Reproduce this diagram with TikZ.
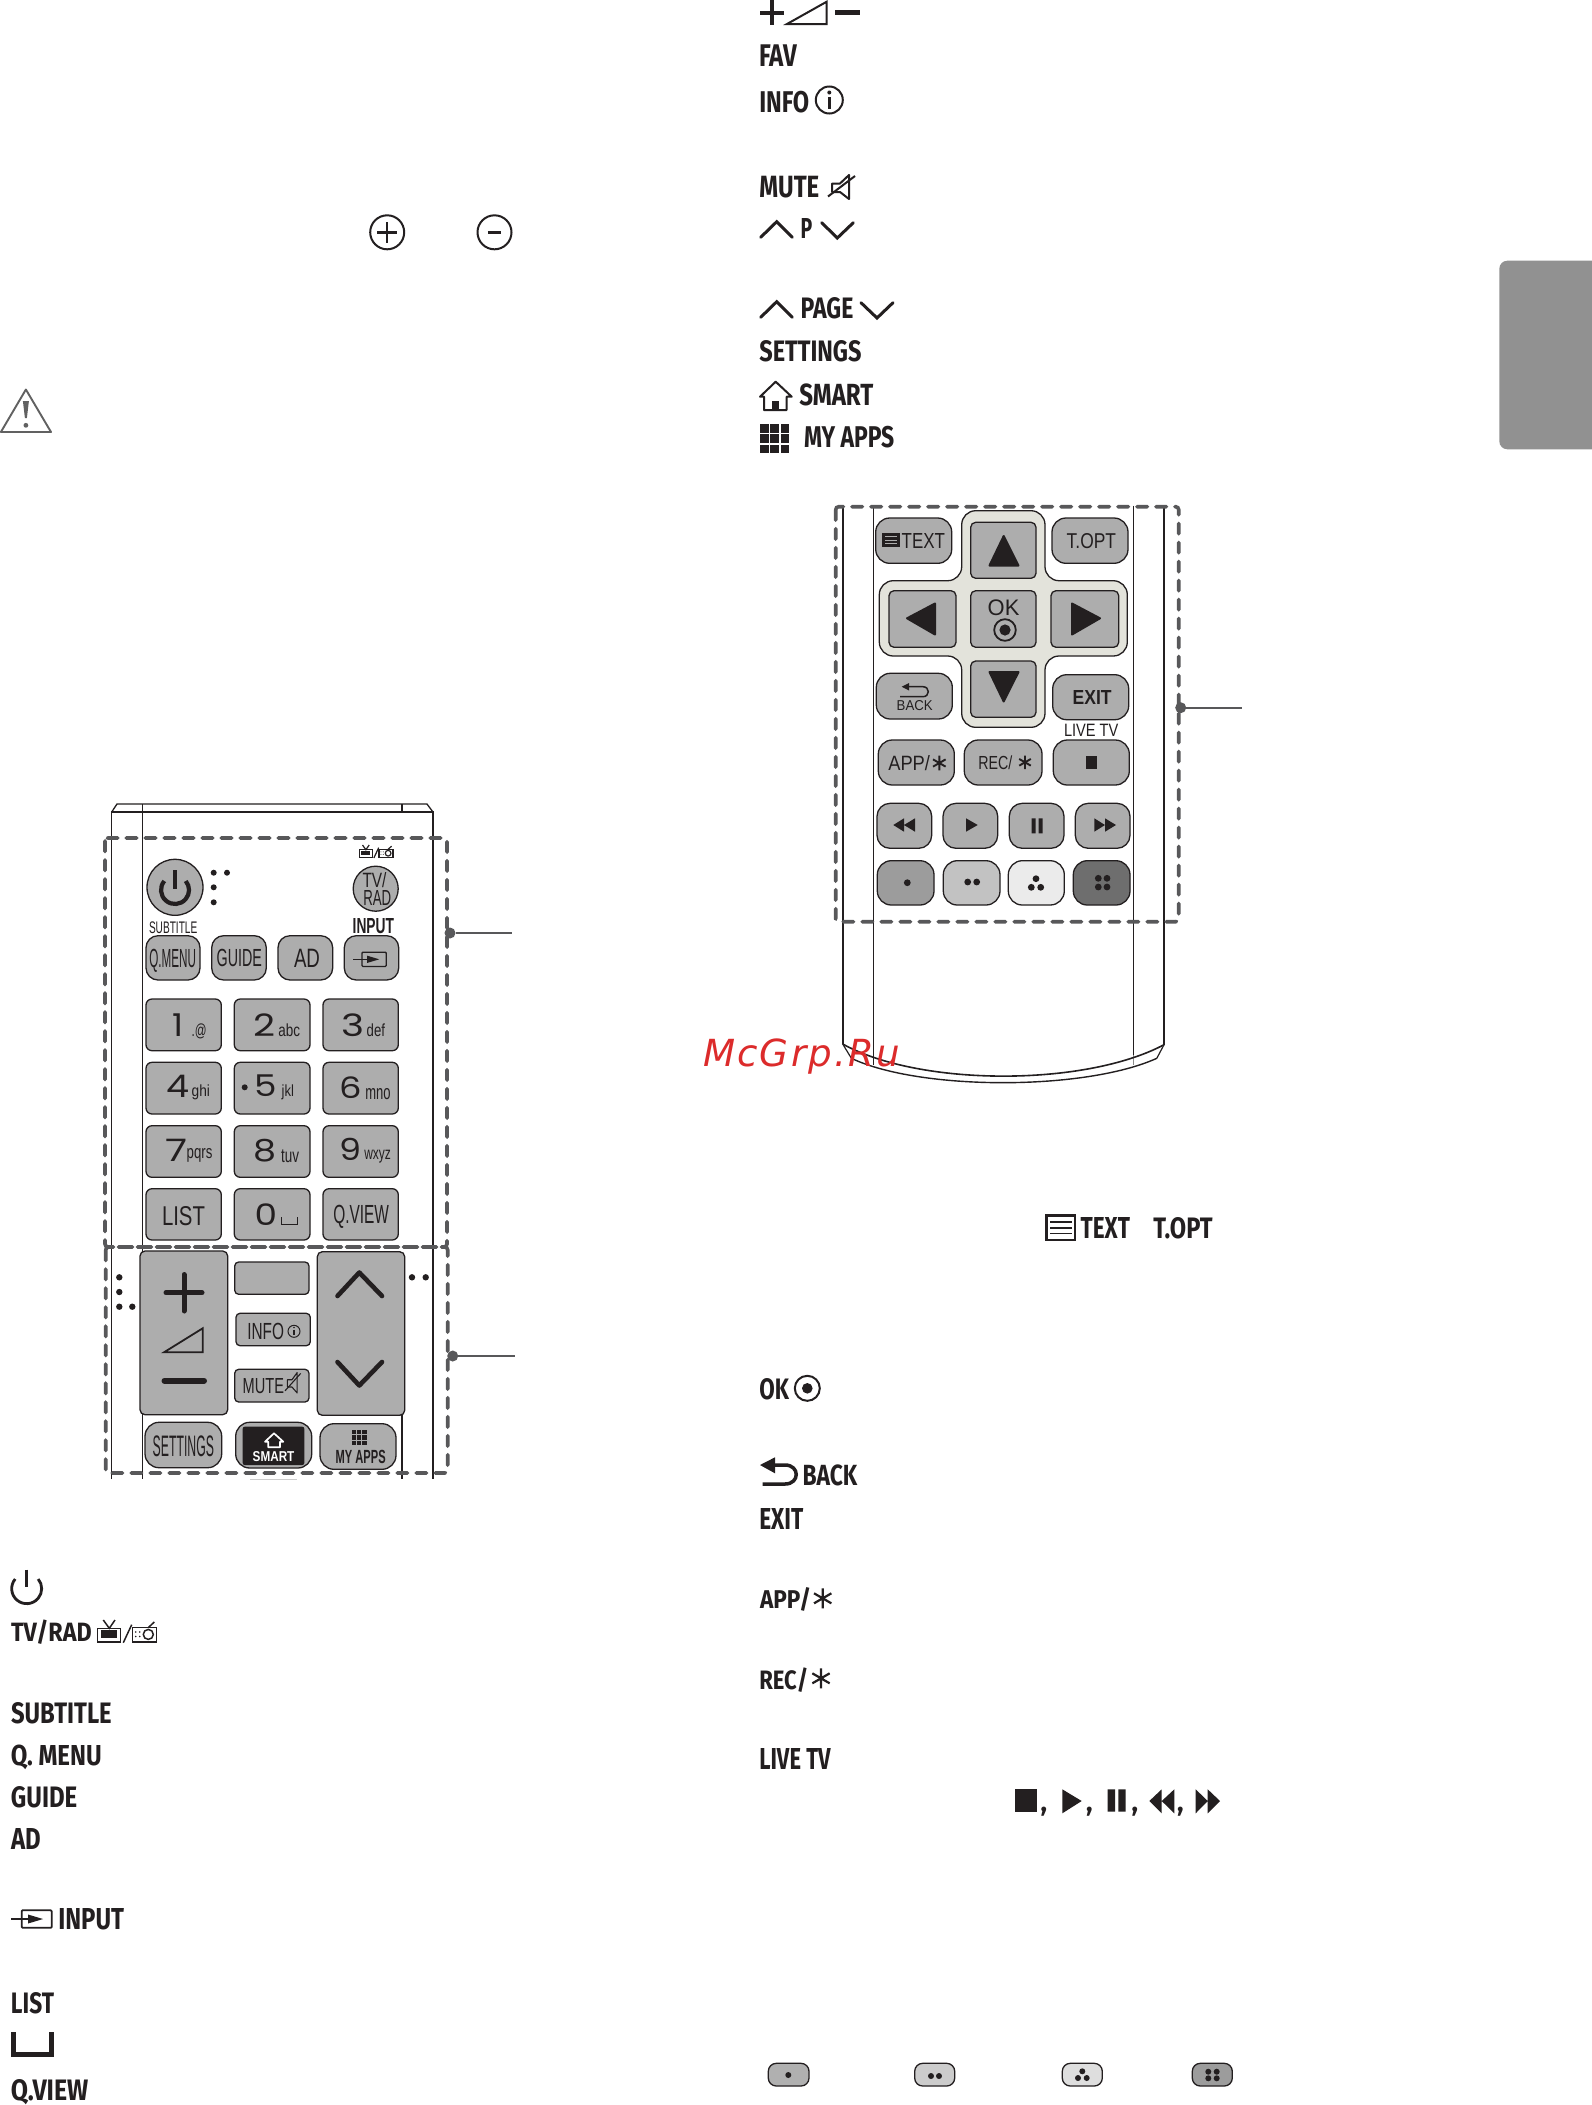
\documentclass[tikz,border=0pt]{standalone}
\usepackage{fontspec}
\usepackage{graphicx}
\newfontfamily\keyfont{Liberation Sans}
\newfontfamily\labfont{Fira Sans}
\newfontfamily\digfont{Poppins}
\newfontfamily\wmfont[LetterSpace=6]{DejaVu Sans}
\definecolor{ink}{HTML}{231F20}
\definecolor{keygray}{HTML}{ADADAD}
\definecolor{dashgray}{HTML}{58585A}
\definecolor{padbeige}{HTML}{E3E3DB}
\tikzset{
  x=1pt,y=-1pt,
  lbl/.style={inner sep=0pt,outer sep=0pt,anchor=base west,text=ink},
  keybox/.style={draw=ink,line width=1.3pt,inner sep=0pt,outer sep=0pt},
  body/.style={draw=ink,line width=1.3pt},
  dashbox/.style={draw=dashgray,line width=3.6pt,line cap=round,dash pattern=on 10.5pt off 8.5pt,rounded corners=3pt},
  ldot/.style={circle,fill=dashgray,inner sep=0pt,minimum size=11pt,outer sep=0pt},
  leader/.style={draw=dashgray,line width=2.4pt},
  solidicon/.style={fill=ink,draw=ink,line width=1pt,line join=round},
}
% name, x, baseline, width, height, font, text
\newcommand\placetext[7]{\node[lbl] (#1) at (#2,#3) {\resizebox{#4pt}{#5pt}{#6#7}};}
\newcommand\KT[6]{\placetext{#1}{#2}{#3}{#4}{#5}{\keyfont}{#6}}
\newcommand\KB[6]{\placetext{#1}{#2}{#3}{#4}{#5}{\keyfont\bfseries}{#6}}
\newcommand\LB[6]{\placetext{#1}{#2}{#3}{#4}{#5}{\labfont\bfseries}{#6}}
\newcommand\DG[6]{\placetext{#1}{#2}{#3}{#4}{#5}{\digfont}{#6}}
% name, x0, y0, x1, y1, radius, fill
\newcommand\KEY[7]{\node[keybox,rectangle,rounded corners=#6pt,fill=#7,minimum width={(#4-#2)*1pt},minimum height={(#5-#3)*1pt}] (#1) at ({(#2+#4)/2},{(#3+#5)/2}) {};}
\newcommand\DOT[3]{\fill[ink] (#1,#2) circle[radius=#3];}
\newcommand\ASTR[4]{\draw[ink,line width=#4pt] (#1,#2) +(90:#3) -- +(270:#3) (#1,#2) +(30:#3) -- +(210:#3) (#1,#2) +(150:#3) -- +(330:#3);}
\newcommand\GRIDICON[5]{\foreach \i in {0,1,2}{\foreach \j in {0,1,2}{\fill[#5] ({#1+\i*(#3+#4)},{#2+\j*(#3+#4)}) rectangle +(#3,#3);}}}
% x, y, scale, line width
\newcommand\INPUTICON[4]{\begin{scope}[shift={(#1,#2)},scale=#3]
  \draw[ink,line width=#4pt,rounded corners=1pt] (10.7,-8.8) rectangle (40.7,8.8);
  \draw[ink,line width=#4pt] (0,0) -- (25.7,0);
  \fill[ink] (17,-4.5) -- (32,0) -- (17,4.5) -- cycle;
\end{scope}}
\newcommand\TVICON[4]{\begin{scope}[shift={(#1,#2)},scale=#3]
  \draw[ink,line width=#4pt] (0,8.3) rectangle (23,22);
  \fill[ink] (3.4,9.8) rectangle (19.6,18);
  \draw[ink,line width=#4pt] (5.6,0) -- (11.6,8.3) -- (17.3,0);
  \draw[ink,line width=#4pt] (25.6,22.7) -- (34,4.7);
  \draw[ink,line width=#4pt] (34.6,7.6) rectangle (59,22);
  \draw[ink,line width=#4pt] (50.6,14.4) circle[radius=5];
  \draw[ink,line width=#4pt] (50.6,7.6) -- (56.6,2);
  \foreach \a/\b in {38/12,42/12,38/16.5,42/16.5}{\fill[ink] (\a,\b) circle[radius=0.9];}
\end{scope}}
\newcommand\SPEAKER[5]{\begin{scope}[shift={(#1,#2)},xscale=#3,yscale=#4]
  \draw[ink,line width=#5pt,line join=round] (4,11.5) -- (12,11.5) -- (21,3) -- (21,27) -- (12,20) -- (4,20) -- cycle;
  \draw[ink,line width=#5pt] (0,24.5) -- (27,4);
\end{scope}}
\begin{document}
\begin{tikzpicture}
\useasboundingbox (0,0) rectangle (1591,2105);
\fill[white] (0,0) rectangle (1591,2105);

% ---- grey tab
\fill[fill=black!43!white,rounded corners=8pt] (1499.3,260.7) rectangle (1620,449.3);

% ---- circled plus / minus
\node[circle,draw=ink,line width=2pt,minimum size=34pt,inner sep=0pt] (cplus) at (387.2,232.3) {};
\draw[ink,line width=2.4pt] (377,232.3) -- (397.4,232.3) (387.2,222.1) -- (387.2,242.5);
\node[circle,draw=ink,line width=2pt,minimum size=34pt,inner sep=0pt] (cminus) at (494.5,232.3) {};
\draw[ink,line width=2.4pt] (487.8,232.3) -- (501.3,232.3);

% ---- warning triangle
\draw[black!62!white,line width=1.9pt,line join=round] (25.9,389.5) -- (51,432) -- (0.9,432) -- cycle;
\fill[black!62!white] (22.9,401) -- (28.9,401) -- (26.9,418) -- (24.9,418) -- cycle;
\fill[black!62!white] (25.9,425.3) circle[radius=2.4];

% ---- remote 1 body
\draw[body] (111.7,1479) -- (111.7,812) -- (433,812) -- (433,1479);
\draw[body] (111.7,812) -- (117,804) -- (427,804) -- (433,812);
\draw[body] (142.7,804) -- (142.7,1479);
\draw[body] (402,804) -- (402,812);
\draw[body] (402,1415) -- (402,1479);
\draw[black!20!white,line width=1pt] (250,1479.5) -- (297,1479.5);

\draw[dashbox] (105,838) rectangle (447,1247);
\draw[dashbox] (105.7,1247) rectangle (447.7,1473);
\node[ldot] (dota) at (450,933) {};
\coordinate (enda) at (512,933);
\draw[leader] (dota) -- (enda);
\node[ldot] (dotb) at (452.7,1356) {};
\coordinate (endb) at (514.5,1356);
\draw[leader] (dotb) -- (endb);

% power and TV/RAD
\node[keybox,circle,fill=keygray,minimum size=56pt] (power) at (175,887.3) {};
\draw[ink,line width=4.2pt] (164.3,881) arc[start angle=140,delta angle=260,radius=14pt];
\draw[ink,line width=4.2pt] (175,870) -- (175,889);
\DOT{213.7}{872.7}{3} \DOT{227}{872.7}{3} \DOT{213.7}{887.3}{3} \DOT{213.7}{902.3}{3}
\TVICON{359.3}{845}{0.57}{1.2}
\node[keybox,circle,fill=keygray,minimum size=45pt] (tvrad) at (375.7,888.7) {};
\KT{ttv}{362.5}{887}{24}{15}{TV/}
\KT{trad}{363.3}{905}{28}{15}{RAD}
\KT{tsub}{149}{933.3}{48.3}{11.7}{SUBTITLE}
\KB{tinp}{352.7}{933.3}{41.3}{15}{INPUT}

\KEY{kqm}{146}{935.7}{200}{980}{12}{keygray}
\KEY{kgd}{211.7}{935.7}{266.3}{980}{12}{keygray}
\KEY{kad}{278}{935.7}{332.7}{980}{12}{keygray}
\KEY{kin}{344.3}{935.7}{398.7}{980}{12}{keygray}
\KT{tqm}{149.3}{967.7}{46.7}{18.3}{Q.MENU}
\KT{tgd}{216.7}{966.7}{45.3}{17.3}{GUIDE}
\KT{tad}{294}{967.7}{26}{18.3}{AD}
\INPUTICON{353.3}{959.3}{0.81}{1.3}

% number keys
\KEY{n1}{146}{999}{221.3}{1050.7}{6}{keygray}
\KEY{n2}{234.3}{999}{310}{1050.7}{6}{keygray}
\KEY{n3}{323}{999}{398.3}{1050.7}{6}{keygray}
\KEY{n4}{146}{1062.3}{221.3}{1114}{6}{keygray}
\KEY{n5}{234.3}{1062.3}{310}{1114}{6}{keygray}
\KEY{n6}{323}{1062.3}{398.3}{1114}{6}{keygray}
\KEY{n7}{146}{1125.7}{221.3}{1177.3}{6}{keygray}
\KEY{n8}{234.3}{1125.7}{310}{1177.3}{6}{keygray}
\KEY{n9}{323}{1125.7}{398.3}{1177.3}{6}{keygray}
\KEY{nl}{146}{1188.7}{221.3}{1240}{6}{keygray}
\KEY{n0}{234.3}{1188.7}{310}{1240}{6}{keygray}
\KEY{nq}{323}{1188.7}{398.3}{1240}{6}{keygray}
\DG{d1}{172}{1036}{11}{22.7}{1}\KT{s1}{191.7}{1036}{15}{12.7}{.@}
\DG{d2}{253}{1036}{22}{22.7}{2}\KT{s2}{278.3}{1036}{21.7}{12.7}{abc}
\DG{d3}{341}{1036}{23}{22.7}{3}\KT{s3}{366.7}{1036}{18.3}{12.7}{def}
\DG{d4}{166}{1097.3}{23}{22.3}{4}\KT{s4}{191.7}{1096.7}{18.3}{11.7}{ghi}
\DOT{244.7}{1087.3}{3}
\DG{d5}{254}{1096.7}{22.5}{21.7}{5}\KT{s5}{281.7}{1096.7}{12.3}{11.7}{jkl}
\DG{d6}{339}{1098.3}{22.5}{21.7}{6}\KT{s6}{365.3}{1099.3}{25.3}{11}{mno}
\DG{d7}{165.5}{1161.7}{22}{22.3}{7}\KT{s7}{186.7}{1158.3}{25.7}{10}{pqrs}
\DG{d8}{253}{1161.7}{23}{22.3}{8}\KT{s8}{281}{1162.7}{18}{12.7}{tuv}
\DG{d9}{339}{1160.7}{22}{22.3}{9}\KT{s9}{364.3}{1159.3}{26.7}{9.3}{wxyz}
\KT{tlist}{162}{1225}{43}{19}{LIST}
\DG{d0}{254.5}{1225}{22.5}{21.7}{0}
\draw[ink,line width=1.2pt] (281.3,1217) -- (281.3,1224.7) -- (297.4,1224.7) -- (297.4,1217);
\KT{tqv}{333.3}{1223.3}{55.7}{18.3}{Q.VIEW}

% rockers
\DOT{119.3}{1277.3}{3.2} \DOT{119.3}{1292}{3.2} \DOT{119.3}{1306.7}{3.2} \DOT{132.3}{1306.7}{3.2}
\DOT{412}{1277.3}{3.2} \DOT{425.7}{1277.3}{3.2}
\KEY{kvol}{140}{1251}{227.7}{1414.7}{5}{keygray}
\draw[ink,line width=5pt,line cap=round] (166,1292.7) -- (202,1292.7) (184,1274.5) -- (184,1311);
\draw[ink,line width=1.8pt,line join=miter] (164,1352.3) -- (202.7,1328.3) -- (202.7,1352.3) -- cycle;
\draw[ink,line width=6pt,line cap=round] (164.5,1380.7) -- (204,1380.7);
\KEY{kblank}{234.7}{1262}{309}{1294.3}{4}{keygray}
\KEY{kinfo}{236}{1313.3}{310.3}{1345.7}{4}{keygray}
\KT{tinfo}{247.3}{1339}{36.7}{16.3}{INFO}
\draw[ink,line width=1pt] (294,1331.3) circle[radius=6];
\draw[ink,line width=1.2pt] (294,1329.5) -- (294,1335);
\fill[ink] (294,1327.5) circle[radius=0.8];
\KEY{kmute}{234.7}{1369.3}{309}{1402}{4}{keygray}
\KT{tmute}{242.7}{1393.3}{41.3}{15}{MUTE}
\SPEAKER{285}{1370}{0.58}{0.85}{1.1}
\KEY{kprog}{317.3}{1251.7}{404.7}{1415.3}{5}{keygray}
\draw[ink,line width=4.6pt,line cap=round,line join=round] (337.5,1296) -- (359.3,1272.5) -- (382,1296);
\draw[ink,line width=4.6pt,line cap=round,line join=round] (337.5,1362) -- (359.3,1385.5) -- (382,1362);

\KEY{kset}{145}{1422.3}{221.7}{1467.7}{14}{keygray}
\KT{tset}{152.7}{1456.7}{61.3}{20.7}{SETTINGS}
\KEY{ksm}{235.7}{1422.3}{311.7}{1468}{14}{keygray}
\fill[ink,rounded corners=2pt] (242.7,1426.7) rectangle (304.3,1465);
\draw[white,line width=1.7pt,line join=round] (265,1441.7) -- (274,1433.3) -- (283.3,1441.7) -- (280,1441.7) -- (280,1447.3) -- (268.3,1447.3) -- (268.3,1441.7) -- cycle;
\node[lbl,text=white] (tsmart) at (252.7,1461.7) {\resizebox{41.7pt}{10pt}{\keyfont\bfseries SMART}};
\KEY{kapps}{320}{1423.7}{396}{1469.3}{14}{keygray}
\GRIDICON{351.7}{1430}{4.3}{1}{ink}
\KB{tapps}{335.7}{1463.3}{50}{13.3}{MY APPS}

% ---- left labels
\draw[ink,line width=2.8pt] (15.2,1579) arc[start angle=140,delta angle=260,radius=15pt];
\draw[ink,line width=2.8pt] (26.7,1569.5) -- (26.7,1587);
\LB{ltv}{11}{1641.6}{80.7}{21.6}{TV/RAD}
\TVICON{97.7}{1620}{1}{1.5}
\LB{lsub}{11}{1723}{100.7}{21}{SUBTITLE}
\LB{lqm}{11}{1765.2}{90.7}{20.5}{Q. MENU}
\LB{lgd}{11}{1807.8}{66.3}{21}{GUIDE}
\LB{lad}{11}{1849.2}{29.7}{21}{AD}
\INPUTICON{11}{1919}{1}{1.8}
\LB{linp}{58.3}{1929.2}{65.7}{21}{INPUT}
\LB{llist}{11}{2013.2}{43}{21}{LIST}
\draw[ink,line width=5pt] (13.5,2032) -- (13.5,2054.5) -- (51.5,2054.5) -- (51.5,2032);
\LB{lqv}{11}{2100.4}{77.3}{21}{Q.VIEW}

% ---- top right labels
\draw[ink,line width=4pt] (760,12.7) -- (784.3,12.7) (772,0) -- (772,25);
\draw[ink,line width=2pt] (787,24) -- (826.7,1.7) -- (826.7,24) -- cycle;
\draw[ink,line width=4.5pt] (835,12.7) -- (860,12.7);
\LB{lfav}{759.3}{66.7}{38}{21.7}{FAV}
\LB{linfo}{759.3}{112}{50}{21.3}{INFO}
\draw[ink,line width=2pt] (829.3,100) circle[radius=13.5];
\draw[ink,line width=3.2pt] (829.3,97) -- (829.3,108.5);
\fill[ink] (829.3,92.5) circle[radius=2];
\LB{lmute}{759.3}{197.3}{60}{21.3}{MUTE}
\SPEAKER{828}{172}{1}{1}{2}
\draw[ink,line width=3pt,line cap=round,line join=miter] (760.7,237.3) -- (776.7,221.7) -- (792.3,237.3);
\LB{lp}{800.7}{238.3}{11.7}{20}{P}
\draw[ink,line width=3pt,line cap=round,line join=miter] (821.7,222.7) -- (837.3,238) -- (853.3,222.7);
\draw[ink,line width=3pt,line cap=round,line join=miter] (760.7,317.3) -- (776.7,301.7) -- (792.3,317.3);
\LB{lpage}{800.7}{318.3}{52.7}{21}{PAGE}
\draw[ink,line width=3pt,line cap=round,line join=miter] (861,302.7) -- (877,318) -- (893,302.7);
\LB{lset}{759.3}{361.7}{102.3}{21}{SETTINGS}
\draw[ink,line width=2pt,line join=round] (760,396.7) -- (775.7,381.7) -- (791.7,396.7) -- (786.7,396.7) -- (786.7,410) -- (764,410) -- (764,396.7) -- cycle;
\fill[ink] (772.3,401) rectangle (779.3,410);
\LB{lsmart}{799.3}{405}{74}{21.7}{SMART}
\GRIDICON{760}{424}{8.7}{1.6}{ink}
\LB{lapps}{804}{447.3}{90.3}{21.3}{MY APPS}

% ---- remote 2 body
\draw[ink,line width=1.9pt] (842.7,505.7) -- (842.7,1044);
\draw[body] (1164,505.7) -- (1164,1044.7);
\draw[body] (873.3,505.7) -- (873.3,1065);
\draw[body] (1133.5,505.7) -- (1133.5,1055);
\draw[black!45!white,line width=1pt] (1133.5,1055) -- (1133.5,1065);
\draw[ink,line width=1.6pt] (842.7,1044) .. controls (920,1086.7) and (1085,1086.7) .. (1164,1044.7);
\draw[ink,line width=1.4pt] (851.4,1058.3) .. controls (920,1090.8) and (1085,1090.8) .. (1156.8,1058.3);
\draw[ink,line width=1.2pt] (842.7,1044) -- (851.4,1058.3) (1164,1044.7) -- (1156.8,1058.3);

\draw[dashbox] (835.7,506.7) rectangle (1178.7,921.7);
\node[ldot] (dotc) at (1180.7,707.7) {};
\coordinate (endc) at (1242.3,707.7);
\draw[leader] (dotc) -- (endc);

% cross pad
\draw[ink,line width=1.3pt,fill=padbeige,rounded corners=14pt] (961.7,510.7) -- (1045,510.7) -- (1045,580.7) -- (1127.3,580.7) -- (1127.3,656) -- (1045,656) -- (1045,727.3) -- (961.7,727.3) -- (961.7,656) -- (879.3,656) -- (879.3,580.7) -- (961.7,580.7) -- cycle;
\KEY{kup}{970.7}{522.3}{1036}{578.3}{5}{keygray}
\KEY{kleft}{889}{590.7}{956}{647.3}{5}{keygray}
\KEY{kok}{970.7}{590.7}{1036}{647.3}{5}{keygray}
\KEY{kright}{1051}{590.7}{1118.7}{647.3}{5}{keygray}
\KEY{kdown}{970.7}{661}{1036}{717.3}{5}{keygray}
\draw[solidicon,line width=2pt] (1003.7,536) -- (1018.5,565.5) -- (989.5,565.5) -- cycle;
\draw[solidicon,line width=2pt] (907,618.3) -- (935,603.5) -- (935,634.5) -- cycle;
\draw[solidicon,line width=2pt] (1100,618.3) -- (1072,603.5) -- (1072,634.5) -- cycle;
\draw[solidicon,line width=2pt] (1003.7,701.5) -- (1018.5,672) -- (989.5,672) -- cycle;
\KT{tok}{987.7}{615}{31.7}{15.7}{OK}
\draw[ink,line width=1.8pt] (1005,630) circle[radius=10.8];
\fill[ink] (1005,630) circle[radius=5.6];

\KEY{ktext}{875.7}{518}{951.7}{563.3}{14}{keygray}
\fill[ink] (881.7,532.7) rectangle (900,547.3);
\draw[keygray,line width=1pt] (885,536.5) -- (896.7,536.5) (885,540) -- (896.7,540) (885,543.5) -- (896.7,543.5);
\KT{ttext}{901.7}{548.3}{43.3}{15}{TEXT}
\KEY{ktopt}{1052}{518}{1128}{563.3}{14}{keygray}
\KT{ttopt}{1066.7}{548.3}{49.3}{15}{T.OPT}
\KEY{kback}{876.3}{673.3}{952.3}{719}{14}{keygray}
\fill[ink] (901.7,686.7) -- (909,683) -- (909,690.5) -- cycle;
\draw[ink,line width=1.5pt] (909,686.7) -- (923,686.7) .. controls (930,686.7) and (930,696.7) .. (923,696.7) -- (900,696.7);
\KT{tback}{896.7}{710}{36}{10}{BACK}
\KEY{kexit}{1052.7}{674.7}{1128.7}{719.7}{14}{keygray}
\KB{texit}{1072.7}{704}{39}{14}{EXIT}
\KT{tlive}{1064}{736.7}{54.3}{12.3}{LIVE TV}
\KEY{kapp}{878.3}{740}{954.3}{785}{14}{keygray}
\KT{tapp}{888.3}{770.7}{41.7}{15}{APP/}
\ASTR{939.3}{763}{7.3}{1.9}
\KEY{krec}{964.3}{740}{1042}{785}{14}{keygray}
\KT{trec}{978.3}{769.3}{34}{13.7}{REC/}
\ASTR{1025}{762.3}{6.7}{1.9}
\KEY{kstop}{1053.3}{740}{1129.3}{785}{14}{keygray}
\fill[ink] (1086,755.7) rectangle (1097.3,768.7);

\KEY{krew}{877}{803.3}{931.7}{848.3}{13}{keygray}
\KEY{kplay}{943}{803.3}{997.7}{848.3}{13}{keygray}
\KEY{kpause}{1009.3}{803.3}{1064}{848.3}{13}{keygray}
\KEY{kff}{1075.3}{803.3}{1130}{848.3}{13}{keygray}
\fill[ink] (893.3,825) -- (904,818.3) -- (904,831.7) -- cycle (904,825) -- (915,818.3) -- (915,831.7) -- cycle;
\fill[ink] (966,818.3) -- (977.7,825) -- (966,831.7) -- cycle;
\fill[ink] (1031.7,818.3) rectangle (1035.7,833.3) (1038.5,818.3) rectangle (1042.7,833.3);
\fill[ink] (1094.3,818.3) -- (1105,825) -- (1094.3,831.7) -- cycle (1105,818.3) -- (1116,825) -- (1105,831.7) -- cycle;

\KEY{cred}{877.3}{860.7}{934}{905}{14}{black!39!white}
\KEY{cgrn}{943.3}{860.7}{1000}{905}{14}{black!24!white}
\KEY{cyel}{1008.3}{860.7}{1064.3}{905}{14}{black!8!white}
\KEY{cblu}{1073.3}{860.7}{1130}{905}{14}{black!57!white}
\DOT{907.3}{882.7}{3.4}
\DOT{967.7}{882}{3.4}\DOT{976.7}{882}{3.4}
\DOT{1036}{878.7}{3.4}\DOT{1031.3}{887.3}{3.4}\DOT{1040.7}{887.3}{3.4}
\DOT{1098.3}{878.3}{3.4}\DOT{1107}{878.3}{3.4}\DOT{1098.3}{887}{3.4}\DOT{1107}{887}{3.4}

% ---- lower right labels
\draw[ink,line width=2.5pt] (1046.7,1215.7) rectangle (1075,1240);
\draw[ink,line width=1.6pt] (1050,1221.7) -- (1071.5,1221.7) (1050,1227.7) -- (1071.5,1227.7) (1050,1233.3) -- (1071.5,1233.3);
\LB{ltext}{1080.7}{1238.3}{49.3}{21}{TEXT}
\LB{ltopt}{1153.3}{1238.3}{59.3}{21}{T.OPT}

\LB{lok}{759.3}{1399.3}{29.7}{21}{OK}
\draw[ink,line width=2pt] (807.3,1388.3) circle[radius=12.5];
\fill[ink] (807.3,1388.3) circle[radius=5.3];
\fill[ink] (760,1465) -- (775,1457.3) -- (775,1473.3) -- cycle;
\draw[ink,line width=3.5pt] (775,1465) -- (785,1465) .. controls (800,1465) and (800,1484) .. (785,1484) -- (762.7,1484);
\LB{lback}{802.7}{1485}{54.7}{20.7}{BACK}
\LB{lexit}{759.3}{1529.3}{44}{21}{EXIT}
\LB{lapp}{760}{1608.7}{51}{21}{APP/}
\ASTR{822.7}{1598.3}{10}{2.2}
\LB{lrec}{759.3}{1689.3}{49}{21.7}{REC/}
\ASTR{821}{1678.3}{10}{2.2}
\LB{llive}{759.3}{1769.3}{71.3}{21}{LIVE TV}

\fill[ink] (1015,1789.3) rectangle (1037.3,1811.7);
\fill[ink] (1062.3,1789.3) -- (1081.7,1801) -- (1062.3,1813.3) -- cycle;
\fill[ink] (1107.7,1789.3) rectangle (1115,1811.7) (1118.3,1789.3) rectangle (1125.7,1811.7);
\fill[ink] (1149.3,1801) -- (1161.7,1789.3) -- (1161.7,1813.3) -- cycle (1161.7,1801) -- (1174.3,1789.3) -- (1174.3,1813.3) -- cycle;
\fill[ink] (1195.7,1789.3) -- (1207.7,1801) -- (1195.7,1813.3) -- cycle (1207.7,1789.3) -- (1220,1801) -- (1207.7,1813.3) -- cycle;
\node[lbl] (ca) at (1040.5,1811.7) {\labfont\bfseries\fontsize{27}{27}\selectfont ,};
\node[lbl] (cb) at (1086,1811.7) {\labfont\bfseries\fontsize{27}{27}\selectfont ,};
\node[lbl] (cc) at (1131.5,1811.7) {\labfont\bfseries\fontsize{27}{27}\selectfont ,};
\node[lbl] (cd) at (1177,1811.7) {\labfont\bfseries\fontsize{27}{27}\selectfont ,};

\KEY{bred}{768.3}{2063.3}{809}{2086}{8}{black!31!white}
\KEY{bgrn}{914.7}{2063.3}{954.7}{2086}{8}{black!20!white}
\KEY{byel}{1062.3}{2063.3}{1102.3}{2086}{8}{black!13!white}
\KEY{bblu}{1192.3}{2063.3}{1232.3}{2086}{8}{black!39!white}
\DOT{788.3}{2075}{3}
\DOT{931}{2076}{3}\DOT{939}{2076}{3}
\DOT{1082.3}{2071.3}{3}\DOT{1078}{2078}{3}\DOT{1086.7}{2078}{3}
\DOT{1208.3}{2071.7}{3}\DOT{1216.7}{2071.7}{3}\DOT{1208.3}{2078.3}{3}\DOT{1216.7}{2078.3}{3}

% ---- watermark
\node[lbl,text={rgb,255:red,220;green,43;blue,43}] (wm) at (703,1066.7) {\resizebox{197pt}{27.7pt}{\wmfont\itshape McGrp.Ru}};
\end{tikzpicture}
\end{document}
